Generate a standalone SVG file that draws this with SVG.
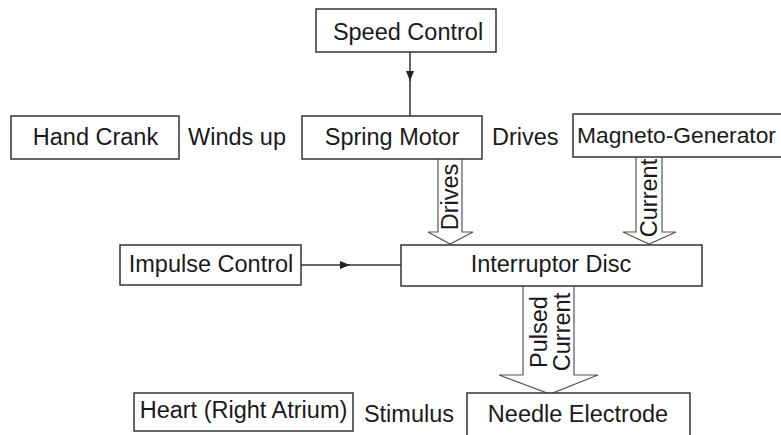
<svg xmlns="http://www.w3.org/2000/svg" width="781" height="435" viewBox="0 0 781 435">
<defs>
<style>
.box{fill:#fff;stroke:#333;stroke-width:1.5}
.t{font-family:"Liberation Sans",Arial,sans-serif;font-size:23.5px;fill:#1a1a1a}
.m{text-anchor:middle}
.hollow{fill:#fff;stroke:#555;stroke-width:1.2}
.ln{stroke:#333;stroke-width:1.5;fill:none}
</style>
<marker id="ah" viewBox="0 0 10 8" refX="10" refY="4" markerWidth="10" markerHeight="8" markerUnits="userSpaceOnUse" orient="auto">
<path d="M0,0 L10,4 L0,8 Z" fill="#222"/>
</marker>
</defs>
<rect width="781" height="435" fill="#fff"/>
<g id="connectors">
<line class="ln" x1="410" y1="52" x2="410" y2="81" marker-end="url(#ah)"/>
<line class="ln" x1="410" y1="80" x2="410" y2="116"/>
<line class="ln" x1="301" y1="265" x2="350" y2="265" marker-end="url(#ah)"/>
<line class="ln" x1="349" y1="265" x2="401" y2="265"/>
<path class="hollow" d="M438,159 V232 H428 L450,244 L473,232 H462 V159"/>
<text class="t m" transform="translate(458,197) rotate(-90)">Drives</text>
<path class="hollow" d="M636,157 V232 H623 L649,244 L676,232 H662 V157"/>
<text class="t m" transform="translate(657,198) rotate(-90)">Current</text>
<path class="hollow" d="M523,286 V375 H499 L550,394 L598,375 H574 V286"/>
<text class="t m" transform="translate(547,332) rotate(-90)">Pulsed</text>
<text class="t m" transform="translate(570,332) rotate(-90)">Current</text>
<text class="t" x="188" y="145">Winds up</text>
<text class="t" x="492" y="145">Drives</text>
<text class="t" x="454" y="422" text-anchor="end">Stimulus</text>
</g>
<g id="speed-control">
<rect class="box" x="316" y="9" width="180" height="43"/>
<text class="t m" x="408" y="40">Speed Control</text>
</g>
<g id="hand-crank">
<rect class="box" x="11" y="116" width="168" height="43"/>
<text class="t m" x="95.5" y="145">Hand Crank</text>
</g>
<g id="spring-motor">
<rect class="box" x="302" y="116" width="180" height="43"/>
<text class="t m" x="392" y="145">Spring Motor</text>
</g>
<g id="magneto-generator">
<rect class="box" x="573" y="114" width="220" height="43"/>
<text class="t" x="577" y="143" style="font-size:22.8px">Magneto-Generator</text>
</g>
<g id="impulse-control">
<rect class="box" x="120" y="245" width="181" height="40"/>
<text class="t m" x="211" y="272">Impulse Control</text>
</g>
<g id="interruptor-disc">
<rect class="box" x="401" y="245" width="301" height="41"/>
<text class="t m" x="551" y="272">Interruptor Disc</text>
</g>
<g id="heart">
<rect class="box" x="134" y="393" width="219" height="38"/>
<text class="t m" x="243.5" y="418">Heart (Right Atrium)</text>
</g>
<g id="needle-electrode">
<rect class="box" x="467" y="393" width="223" height="50"/>
<text class="t m" x="578" y="422">Needle Electrode</text>
</g>
</svg>
